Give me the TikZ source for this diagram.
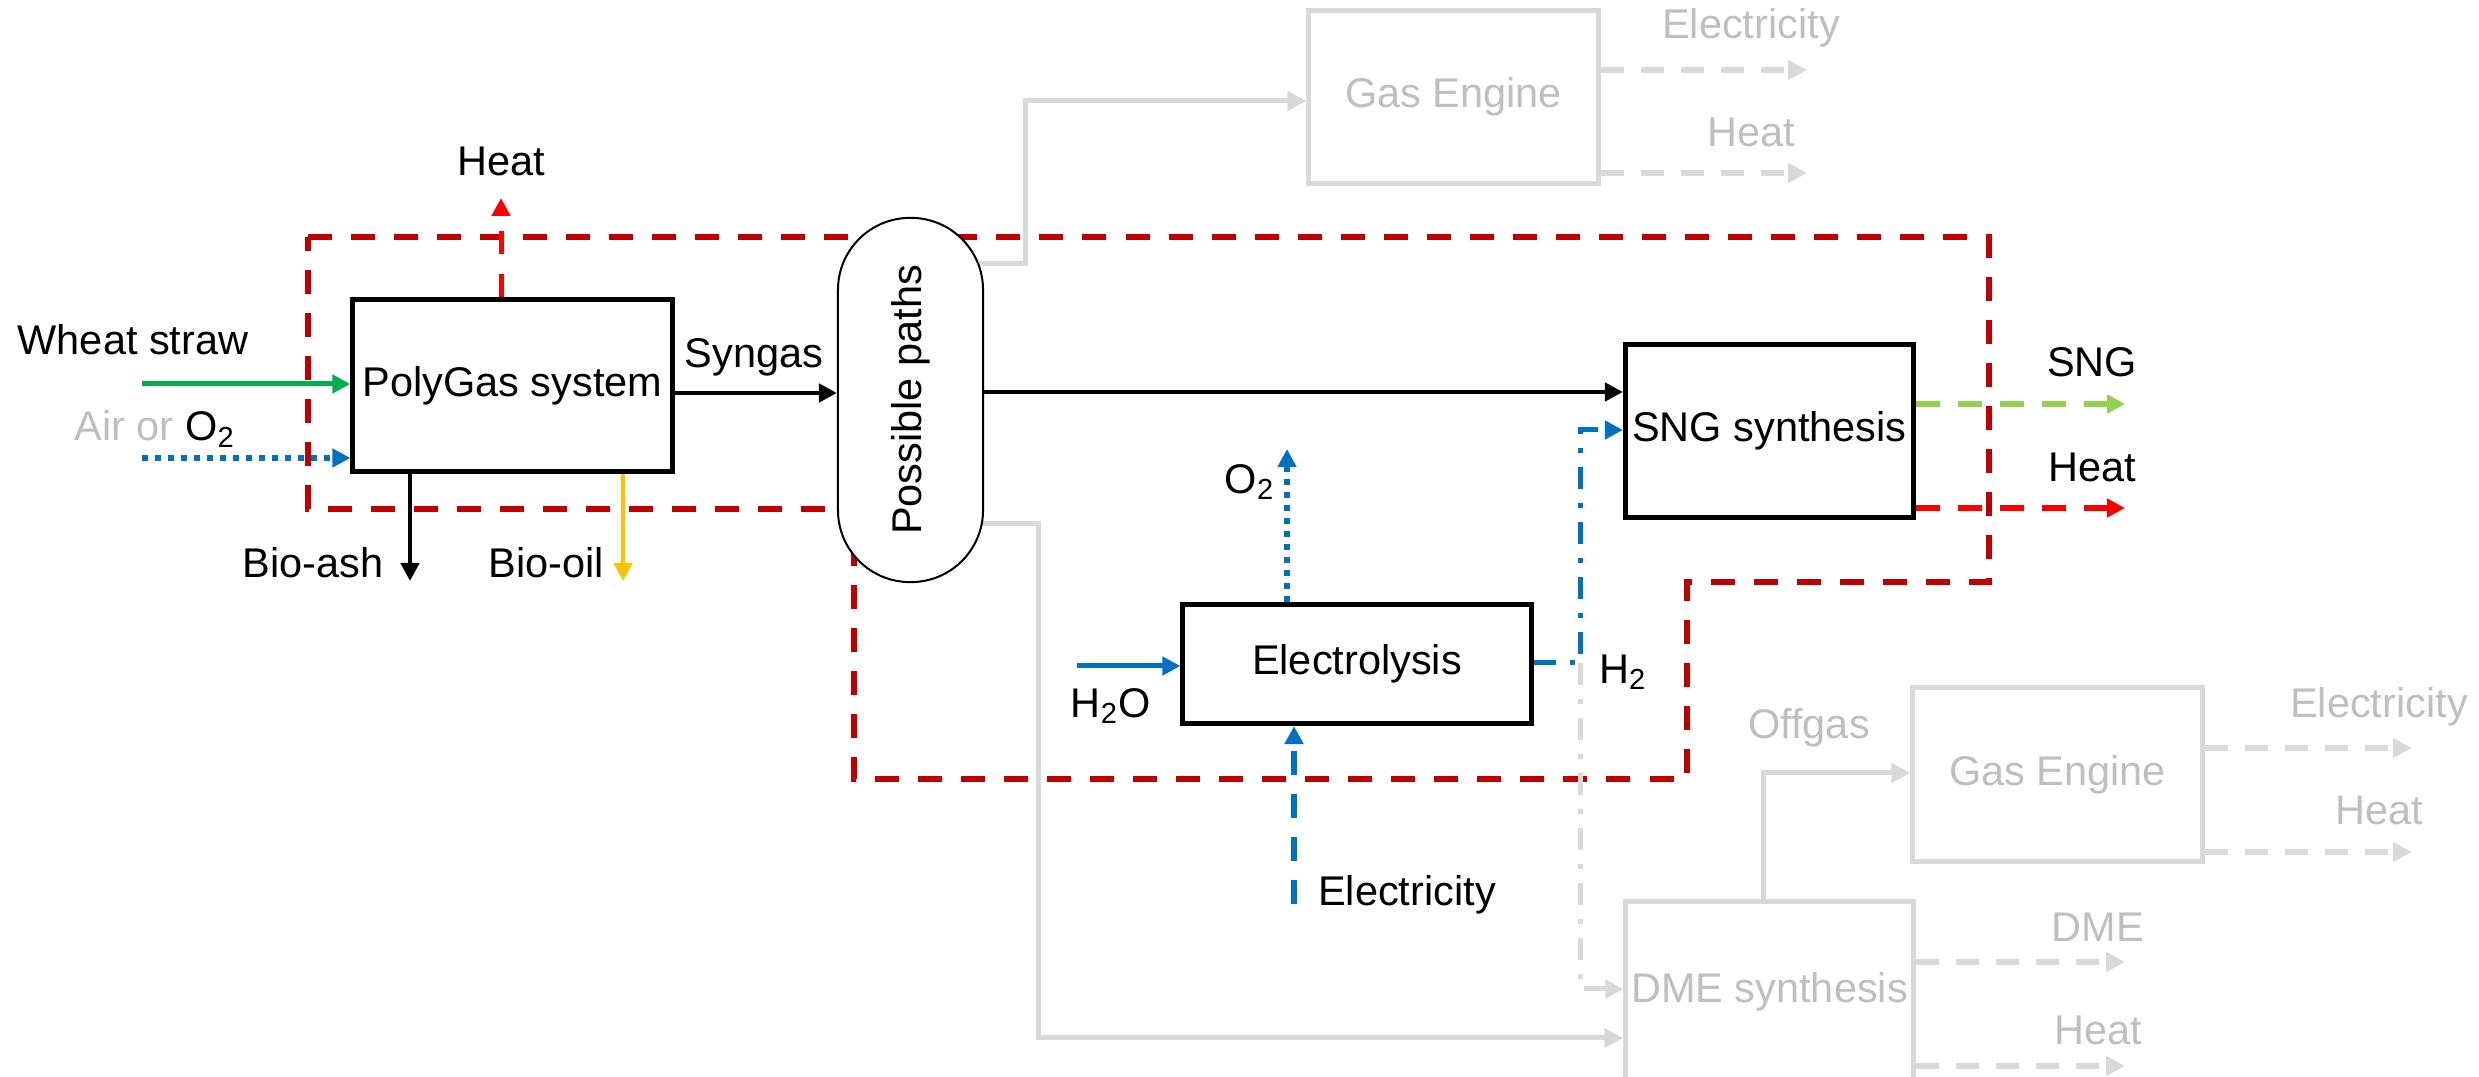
\documentclass[tikz,border=0pt]{standalone}
\usepackage{fontspec}
\setmainfont{Liberation Sans}
\usetikzlibrary{arrows.meta,backgrounds,calc}
\definecolor{bdred}{HTML}{C00000}
\definecolor{hred}{HTML}{FF0000}
\definecolor{sgreen}{HTML}{00B050}
\definecolor{lgreen}{HTML}{92D050}
\definecolor{oblue}{HTML}{0070C0}
\definecolor{oyel}{HTML}{FFC000}
\definecolor{lgray}{HTML}{D9D9D9}
\definecolor{tgray}{HTML}{BFBFBF}
\begin{document}
\begin{tikzpicture}[x=0.01cm,y=-0.01cm,
  font=\fontsize{11.8}{14}\selectfont,
  tip/.style={-{Triangle[length=0.18cm,width=0.18cm]}},
  bigtip/.style={-{Triangle[length=0.19cm,width=0.19cm]}},
  pbox/.style={draw=black,line width=0.05cm,fill=white,inner sep=0pt},
  gbox/.style={draw=lgray,line width=0.05cm,fill=white,inner sep=0pt,text=tgray},
  lbl/.style={inner sep=0pt},
  glbl/.style={inner sep=0pt,text=tgray},
  blk/.style={draw=black,line width=0.045cm,tip},
  grn/.style={draw=sgreen,line width=0.05cm,tip},
  yel/.style={draw=oyel,line width=0.045cm,tip},
  dotblue/.style={draw=oblue,line width=0.058cm,dash pattern=on 0.06cm off 0.07cm,tip},
  solblue/.style={draw=oblue,line width=0.05cm,tip},
  elecblue/.style={draw=oblue,line width=0.055cm,dash pattern=on 0.24cm off 0.19cm,tip},
  ddblue/.style={draw=oblue,line width=0.05cm,dash pattern=on 0.22cm off 0.14cm on 0.05cm off 0.14cm,tip},
  ddgray/.style={draw=lgray,line width=0.05cm,dash pattern=on 0.22cm off 0.14cm on 0.05cm off 0.14cm,tip},
  hdash/.style={draw=hred,line width=0.05cm,dash pattern=on 0.23cm off 0.2cm,tip},
  gndash/.style={draw=lgreen,line width=0.058cm,dash pattern=on 0.24cm off 0.18cm,tip},
  rddash/.style={draw=hred,line width=0.058cm,dash pattern=on 0.24cm off 0.18cm,tip},
  gline/.style={draw=lgray,line width=0.05cm,bigtip},
  gdash/.style={draw=lgray,line width=0.06cm,dash pattern=on 0.23cm off 0.17cm,bigtip},
  bdry/.style={draw=bdred,line width=0.058cm,dash pattern=on 0.24cm off 0.19cm}
]
\useasboundingbox (0,0) rectangle (2479,1077);

% process nodes
\node[pbox,minimum width=3.19cm,minimum height=1.71cm] (pg) at (512.5,385.5) {PolyGas system};
\node[draw=black,line width=0.02cm,fill=white,rounded corners=0.72cm,minimum width=1.45cm,minimum height=3.64cm,inner sep=0pt] (pp) at (910.5,400) {\rotatebox{90}{Possible paths}};
\node[pbox,minimum width=2.88cm,minimum height=1.73cm] (sng) at (1769.5,431) {SNG synthesis};
\node[pbox,minimum width=3.48cm,minimum height=1.19cm] (el) at (1357,664) {Electrolysis};
\node[gbox,minimum width=2.89cm,minimum height=1.72cm] (ge1) at (1453.5,97) {Gas Engine};
\node[gbox,minimum width=2.89cm,minimum height=1.73cm] (ge2) at (2057.5,774.5) {Gas Engine};
\node[gbox,minimum width=2.87cm,minimum height=1.8cm] (dme) at (1769.5,992) {DME synthesis};

% labels
\node[lbl] (lws) at (133,340) {Wheat straw};
\node[lbl] (lair) at (155,429) {\textcolor{tgray}{Air or} O\textsubscript{2}};
\node[lbl] (lheat1) at (501,161) {Heat};
\node[lbl] (lash) at (313,563) {Bio-ash};
\node[lbl] (loil) at (546,563) {Bio-oil};
\node[lbl] (lsyn) at (754,357) {Syngas};
\node[lbl] (lh2o) at (1111,706) {H\textsubscript{2}O};
\node[lbl] (lo2) at (1250,482) {O\textsubscript{2}};
\node[lbl] (lel) at (1407,895) {Electricity};
\node[lbl] (lh2) at (1623,672) {H\textsubscript{2}};
\node[lbl] (lsng) at (2092,362) {SNG};
\node[lbl] (lheat2) at (2092,467) {Heat};
\node[glbl] (lel1) at (1751,28) {Electricity};
\node[glbl] (lheat3) at (1751,132) {Heat};
\node[glbl] (loff) at (1809,728) {Offgas};
\node[glbl] (lel2) at (2379,707) {Electricity};
\node[glbl] (lheat4) at (2379,810) {Heat};
\node[glbl] (ldme) at (2098,927) {DME};
\node[glbl] (lheat5) at (2098,1030) {Heat};

% free ends
\coordinate (wsL) at (142,384);
\coordinate (airL) at (142,458);
\coordinate (heatT) at (501,198);
\coordinate (ashB) at (410,581);
\coordinate (oilB) at (623,581);
\coordinate (sgY) at (0,393);
\coordinate (mainY) at (0,392);
\coordinate (topY) at (0,264);
\coordinate (topX) at (1025,101);
\coordinate (botY) at (0,524);
\coordinate (botX) at (1038,1038);
\coordinate (e1O) at (1807,70);
\coordinate (h1O) at (1807,173);
\coordinate (h2oL) at (1077,666);
\coordinate (o2T) at (1287,449);
\coordinate (elB) at (1294,904);
\coordinate (h2Y) at (0,663);
\coordinate (h2T) at (1580,430);
\coordinate (h2J) at (1580,663);
\coordinate (h2D) at (1580,989);
\coordinate (sngO) at (2125,404);
\coordinate (heatO) at (2125,508);
\coordinate (offX) at (1763,773);
\coordinate (e2O) at (2412,748);
\coordinate (h2O) at (2412,852);
\coordinate (dmeO) at (2125,962);
\coordinate (h5O) at (2125,1066);

\begin{scope}[on background layer]
  % system boundary
  \draw[bdry] (308,237) -- (1989,237) -- (1989,582) -- (1687,582) -- (1687,779) -- (854,779) -- (854,509) -- (308,509) -- cycle;
  % PolyGas in/out
  \draw[grn] (wsL) -- (wsL -| pg.west);
  \draw[dotblue] (airL) -- (airL -| pg.west);
  \draw[hdash] (heatT |- pg.north) -- (heatT);
  \draw[blk] (ashB |- pg.south) -- (ashB);
  \draw[yel] (oilB |- pg.south) -- (oilB);
  \draw[blk] (pg.east |- sgY) -- (pp.west |- sgY);
  \draw[blk] (pp.east |- mainY) -- (sng.west |- mainY);
  % gray paths
  \draw[gline] ($(pp.east |- topY)+(-5,0)$) -| (topX) -- (ge1.west |- topX);
  \draw[gline] ($(pp.east |- botY)+(-2,0)$) -| (botX) -- (dme.west |- botX);
  \draw[gdash] (ge1.east |- e1O) -- (e1O);
  \draw[gdash] (ge1.east |- h1O) -- (h1O);
  % electrolysis
  \draw[solblue] (h2oL) -- (h2oL -| el.west);
  \draw[dotblue] (o2T |- el.north) -- (o2T);
  \draw[elecblue] (elB) -- (elB |- el.south);
  \draw[ddblue] (el.east |- h2Y) -| (h2T) -- (sng.west |- h2T);
  \draw[ddgray] (h2J) -- (h2D) -- (dme.west |- h2D);
  % SNG outputs
  \draw[gndash] (sng.east |- sngO) -- (sngO);
  \draw[rddash] (sng.east |- heatO) -- (heatO);
  % DME and gas engine 2
  \draw[gline] (offX |- dme.north) |- (ge2.west |- offX);
  \draw[gdash] (ge2.east |- e2O) -- (e2O);
  \draw[gdash] (ge2.east |- h2O) -- (h2O);
  \draw[gdash] (dme.east |- dmeO) -- (dmeO);
  \draw[gdash] (dme.east |- h5O) -- (h5O);
\end{scope}
\end{tikzpicture}
\end{document}
